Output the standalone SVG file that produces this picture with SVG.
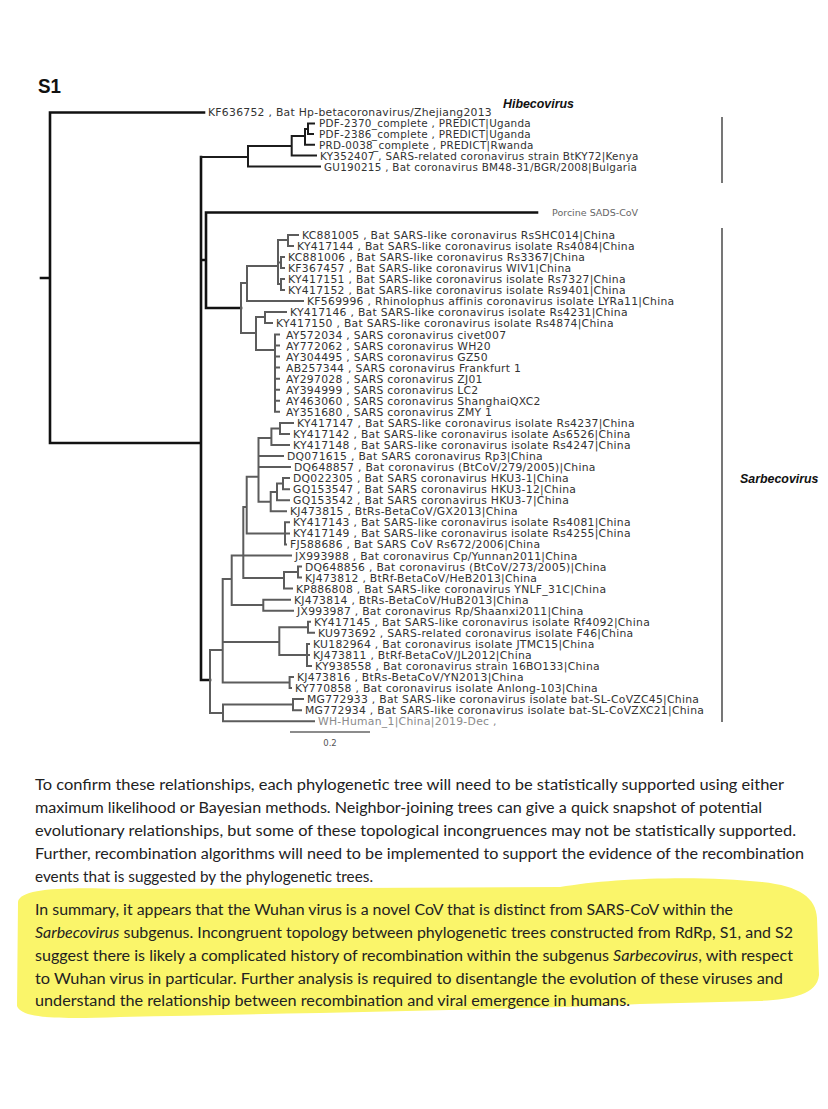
<svg xmlns="http://www.w3.org/2000/svg" width="828" height="1109" viewBox="0 0 828 1109">
<style>
.bk{fill:none;stroke:#111;stroke-width:2.6;stroke-linecap:square}
.hb{fill:none;stroke:#1c1c1c;stroke-width:2;stroke-linecap:square}
.gy{fill:none;stroke:#5c5c5c;stroke-width:2;stroke-linecap:square}
.bar{fill:none;stroke:#555;stroke-width:1.6}
.lf{font-family:"DejaVu Sans",Verdana,sans-serif;font-size:10.8px;letter-spacing:0.28px;fill:#333}
.lt{font-family:"DejaVu Sans",Verdana,sans-serif;font-size:10.4px;letter-spacing:0.28px;fill:#333}
.clade{font-family:"Liberation Sans",Arial,sans-serif;font-weight:bold;font-style:italic;font-size:12.4px;fill:#111}
.para{font-family:Lato,"Liberation Sans",sans-serif;font-size:15.5px;fill:#222}
</style>
<rect width="828" height="1109" fill="#fff"/>
<text x="38" y="93" font-family="Liberation Sans,Arial,sans-serif" font-weight="bold" font-size="20" fill="#111" textLength="23" lengthAdjust="spacingAndGlyphs">S1</text>

<g id="connectors">
<path class="bk" d="M41,278H50 M50,112.5V443 M50,112.5H204 M50,443H201 M201,157V680 M201,260H206 M206,212.5V308 M206,212.5H537 M206,308H241 M201,680H210"/>
<path class="hb" d="M201,157H248 M248,146V166.5 M248,146H291.7 M248,166.5H320 M291.7,136V155.5 M291.7,155.5H316 M291.7,136H305 M305,129V144.8 M305,144.8H314 M305,129H308 M308,123.4V134 M308,123.4H314 M308,134H313"/>
<path class="gy" d="M241,283V333 M241,283H247 M247,266V301 M247,266H278 M278,240V284 M278,240H288 M288,235V246 M288,235H298 M288,246H293 M278,262.5H281 M281,257V268 M281,257H284 M281,268H284 M278,284H281 M281,279V290 M281,279H284 M281,290H284 M247,301H303 M241,333H256 M256,317V350 M256,317H265 M265,312V323 M265,312H286 M265,323H272 M256,350H275 M275,334.5V411.8 M275,334.5H279 M275,345.5H279 M275,356.6H279 M275,367.6H279 M275,378.7H279 M275,389.7H279 M275,400.8H279 M275,411.8H279"/>
<path class="gy" d="M210,650V713 M210,650H222.7 M222.7,579V682.5 M222.7,579H231.7 M231.7,555.5V605 M231.7,555.5H243.3 M243.3,507V578 M243.3,507H246.7 M246.7,476.7V533.4 M246.7,476.7H258.5 M258.5,438V501.7 M258.5,438H271.4 M271.4,428.4V445 M271.4,428.4H280 M280,422.9V433.9 M280,422.9H293 M280,433.9H289 M271.4,445H289 M258.5,456H283 M258.5,467.1H290 M258.5,501.7H270.7 M270.7,492V511.3 M270.7,492H277 M277,483.6V500.2 M277,483.6H283 M283,478.1V489.2 M283,478.1H289 M283,489.2H289 M277,500.2H289 M270.7,511.3H286 M246.7,533.4H285 M285,522.3V544.4 M285,522.3H289 M285,533.4H289 M285,544.4H286 M243.3,555.5H291 M243.3,578H284 M284,572V588.6 M284,572H298 M298,566.5V577.6 M298,566.5H301 M298,577.6H301 M284,588.6H292 M231.7,605H263.3 M263.3,599.7V610.7 M263.3,599.7H290 M263.3,610.7H293 M222.7,642H279.3 M279.3,627.3V655 M279.3,627.3H308 M308,621.8V632.8 M308,621.8H310 M308,632.8H314 M279.3,655H307 M307,643.9V666 M307,643.9H309 M307,654.9H309 M307,666H311 M222.7,682.5H289.6 M289.6,677V688.1 M289.6,677H293 M289.6,688.1H291 M210,713H223 M223,704.6V721.2 M223,704.6H293 M293,699.1V710.2 M293,699.1H303 M293,710.2H301 M223,721.2H314"/>
<path class="bar" d="M722,117V183 M722,228V722"/>
<path d="M290,732H370" stroke="#666" stroke-width="1.3"/>
</g>

<g id="scale-label"><text x="330" y="746" text-anchor="middle" font-family="DejaVu Sans,sans-serif" font-size="8.5" fill="#555">0.2</text></g>
<g id="clade-hibecovirus"><text class="clade" x="503" y="107.5">Hibecovirus</text></g>
<g id="clade-sarbecovirus"><text class="clade" x="740" y="483">Sarbecovirus</text></g>

<g id="leaves">
<g id="n-KF636752"><text class="lf" x="208" y="116">KF636752 , Bat Hp-betacoronavirus/Zhejiang2013</text></g>
<g id="n-PDF2370"><text class="lt" x="319" y="127.2">PDF-2370_complete , PREDICT|Uganda</text></g>
<g id="n-PDF2386"><text class="lt" x="319" y="137.9">PDF-2386_complete , PREDICT|Uganda</text></g>
<g id="n-PRD0038"><text class="lt" x="319" y="148.7">PRD-0038_complete , PREDICT|Rwanda</text></g>
<g id="n-KY352407"><text class="lt" x="320" y="159.5">KY352407 , SARS-related coronavirus strain BtKY72|Kenya</text></g>
<g id="n-GU190215"><text class="lt" x="324" y="170.5">GU190215 , Bat coronavirus BM48-31/BGR/2008|Bulgaria</text></g>
<g id="n-porcine"><text x="552" y="216" font-family="DejaVu Sans,sans-serif" font-size="9.5" fill="#666">Porcine SADS-CoV</text></g>
<g id="n-KC881005"><text class="lf" x="302" y="239">KC881005 , Bat SARS-like coronavirus RsSHC014|China</text></g>
<g id="n-KY417144"><text class="lf" x="297" y="250.1">KY417144 , Bat SARS-like coronavirus isolate Rs4084|China</text></g>
<g id="n-KC881006"><text class="lf" x="288" y="261.1">KC881006 , Bat SARS-like coronavirus Rs3367|China</text></g>
<g id="n-KF367457"><text class="lf" x="288" y="272.2">KF367457 , Bat SARS-like coronavirus WIV1|China</text></g>
<g id="n-KY417151"><text class="lf" x="288" y="283.2">KY417151 , Bat SARS-like coronavirus isolate Rs7327|China</text></g>
<g id="n-KY417152"><text class="lf" x="288" y="294.3">KY417152 , Bat SARS-like coronavirus isolate Rs9401|China</text></g>
<g id="n-KF569996"><text class="lf" x="307" y="305.3">KF569996 , Rhinolophus affinis coronavirus isolate LYRa11|China</text></g>
<g id="n-KY417146"><text class="lf" x="290" y="316.4">KY417146 , Bat SARS-like coronavirus isolate Rs4231|China</text></g>
<g id="n-KY417150"><text class="lf" x="276" y="327.4">KY417150 , Bat SARS-like coronavirus isolate Rs4874|China</text></g>
<g id="n-AY572034"><text class="lf" x="286" y="338.5">AY572034 , SARS coronavirus civet007</text></g>
<g id="n-AY772062"><text class="lf" x="286" y="349.5">AY772062 , SARS coronavirus WH20</text></g>
<g id="n-AY304495"><text class="lf" x="286" y="360.6">AY304495 , SARS coronavirus GZ50</text></g>
<g id="n-AB257344"><text class="lf" x="286" y="371.6">AB257344 , SARS coronavirus Frankfurt 1</text></g>
<g id="n-AY297028"><text class="lf" x="286" y="382.7">AY297028 , SARS coronavirus ZJ01</text></g>
<g id="n-AY394999"><text class="lf" x="286" y="393.7">AY394999 , SARS coronavirus LC2</text></g>
<g id="n-AY463060"><text class="lf" x="286" y="404.8">AY463060 , SARS coronavirus ShanghaiQXC2</text></g>
<g id="n-AY351680"><text class="lf" x="286" y="415.8">AY351680 , SARS coronavirus ZMY 1</text></g>
<g id="n-KY417147"><text class="lf" x="297" y="426.9">KY417147 , Bat SARS-like coronavirus isolate Rs4237|China</text></g>
<g id="n-KY417142"><text class="lf" x="293" y="437.9">KY417142 , Bat SARS-like coronavirus isolate As6526|China</text></g>
<g id="n-KY417148"><text class="lf" x="293" y="449">KY417148 , Bat SARS-like coronavirus isolate Rs4247|China</text></g>
<g id="n-DQ071615"><text class="lf" x="287" y="460">DQ071615 , Bat SARS coronavirus Rp3|China</text></g>
<g id="n-DQ648857"><text class="lf" x="294" y="471.1">DQ648857 , Bat coronavirus (BtCoV/279/2005)|China</text></g>
<g id="n-DQ022305"><text class="lf" x="293" y="482.1">DQ022305 , Bat SARS coronavirus HKU3-1|China</text></g>
<g id="n-GQ153547"><text class="lf" x="293" y="493.2">GQ153547 , Bat SARS coronavirus HKU3-12|China</text></g>
<g id="n-GQ153542"><text class="lf" x="293" y="504.2">GQ153542 , Bat SARS coronavirus HKU3-7|China</text></g>
<g id="n-KJ473815"><text class="lf" x="290" y="515.3">KJ473815 , BtRs-BetaCoV/GX2013|China</text></g>
<g id="n-KY417143"><text class="lf" x="293" y="526.3">KY417143 , Bat SARS-like coronavirus isolate Rs4081|China</text></g>
<g id="n-KY417149"><text class="lf" x="293" y="537.4">KY417149 , Bat SARS-like coronavirus isolate Rs4255|China</text></g>
<g id="n-FJ588686"><text class="lf" x="290" y="548.4">FJ588686 , Bat SARS CoV Rs672/2006|China</text></g>
<g id="n-JX993988"><text class="lf" x="295" y="559.5">JX993988 , Bat coronavirus Cp/Yunnan2011|China</text></g>
<g id="n-DQ648856"><text class="lf" x="305" y="570.5">DQ648856 , Bat coronavirus (BtCoV/273/2005)|China</text></g>
<g id="n-KJ473812"><text class="lf" x="305" y="581.6">KJ473812 , BtRf-BetaCoV/HeB2013|China</text></g>
<g id="n-KP886808"><text class="lf" x="296" y="592.6">KP886808 , Bat SARS-like coronavirus YNLF_31C|China</text></g>
<g id="n-KJ473814"><text class="lf" x="294" y="603.7">KJ473814 , BtRs-BetaCoV/HuB2013|China</text></g>
<g id="n-JX993987"><text class="lf" x="297" y="614.7">JX993987 , Bat coronavirus Rp/Shaanxi2011|China</text></g>
<g id="n-KY417145"><text class="lf" x="314" y="625.8">KY417145 , Bat SARS-like coronavirus isolate Rf4092|China</text></g>
<g id="n-KU973692"><text class="lf" x="318" y="636.8">KU973692 , SARS-related coronavirus isolate F46|China</text></g>
<g id="n-KU182964"><text class="lf" x="313" y="647.9">KU182964 , Bat coronavirus isolate JTMC15|China</text></g>
<g id="n-KJ473811"><text class="lf" x="313" y="658.9">KJ473811 , BtRf-BetaCoV/JL2012|China</text></g>
<g id="n-KY938558"><text class="lf" x="315" y="670">KY938558 , Bat coronavirus strain 16BO133|China</text></g>
<g id="n-KJ473816"><text class="lf" x="297" y="681">KJ473816 , BtRs-BetaCoV/YN2013|China</text></g>
<g id="n-KY770858"><text class="lf" x="295" y="692.1">KY770858 , Bat coronavirus isolate Anlong-103|China</text></g>
<g id="n-MG772933"><text class="lf" x="307" y="703.1">MG772933 , Bat SARS-like coronavirus isolate bat-SL-CoVZC45|China</text></g>
<g id="n-MG772934"><text class="lf" x="305" y="714.2">MG772934 , Bat SARS-like coronavirus isolate bat-SL-CoVZXC21|China</text></g>
<g id="n-WH-Human"><text class="lf" x="318" y="725.2" style="fill:#8a8a8a">WH-Human_1|China|2019-Dec ,</text></g>
</g>

<g id="paragraph-1">
<text class="para" x="35" y="790" textLength="749" lengthAdjust="spacingAndGlyphs">To confirm these relationships, each phylogenetic tree will need to be statistically supported using either</text>
<text class="para" x="35" y="813" textLength="727" lengthAdjust="spacingAndGlyphs">maximum likelihood or Bayesian methods. Neighbor-joining trees can give a quick snapshot of potential</text>
<text class="para" x="35" y="836" textLength="761" lengthAdjust="spacingAndGlyphs">evolutionary relationships, but some of these topological incongruences may not be statistically supported.</text>
<text class="para" x="35" y="859" textLength="769" lengthAdjust="spacingAndGlyphs">Further, recombination algorithms will need to be implemented to support the evidence of the recombination</text>
<text class="para" x="35" y="882" textLength="338" lengthAdjust="spacingAndGlyphs">events that is suggested by the phylogenetic trees.</text>
</g>

<g id="highlight">
<path d="M18,902 C20,889 60,887 120,889 L560,887 C610,878 700,875 762,882 C800,886 816,898 817,918 L819,975 C817,995 792,999 760,1001 L640,1004 C500,1010 300,1013 120,1017 C60,1019 22,1019 17,1006 Z" fill="#faf56a"/>
</g>

<g id="paragraph-2">
<text class="para" x="35" y="915" textLength="698" lengthAdjust="spacingAndGlyphs">In summary, it appears that the Wuhan virus is a novel CoV that is distinct from SARS-CoV within the</text>
<text class="para" x="35" y="938" textLength="758" lengthAdjust="spacingAndGlyphs"><tspan font-style="italic">Sarbecovirus</tspan> subgenus. Incongruent topology between phylogenetic trees constructed from RdRp, S1, and S2</text>
<text class="para" x="35" y="961" textLength="758" lengthAdjust="spacingAndGlyphs">suggest there is likely a complicated history of recombination within the subgenus <tspan font-style="italic">Sarbecovirus</tspan>, with respect</text>
<text class="para" x="35" y="984" textLength="748" lengthAdjust="spacingAndGlyphs">to Wuhan virus in particular. Further analysis is required to disentangle the evolution of these viruses and</text>
<text class="para" x="35" y="1006" textLength="595" lengthAdjust="spacingAndGlyphs">understand the relationship between recombination and viral emergence in humans.</text>
</g>
</svg>
